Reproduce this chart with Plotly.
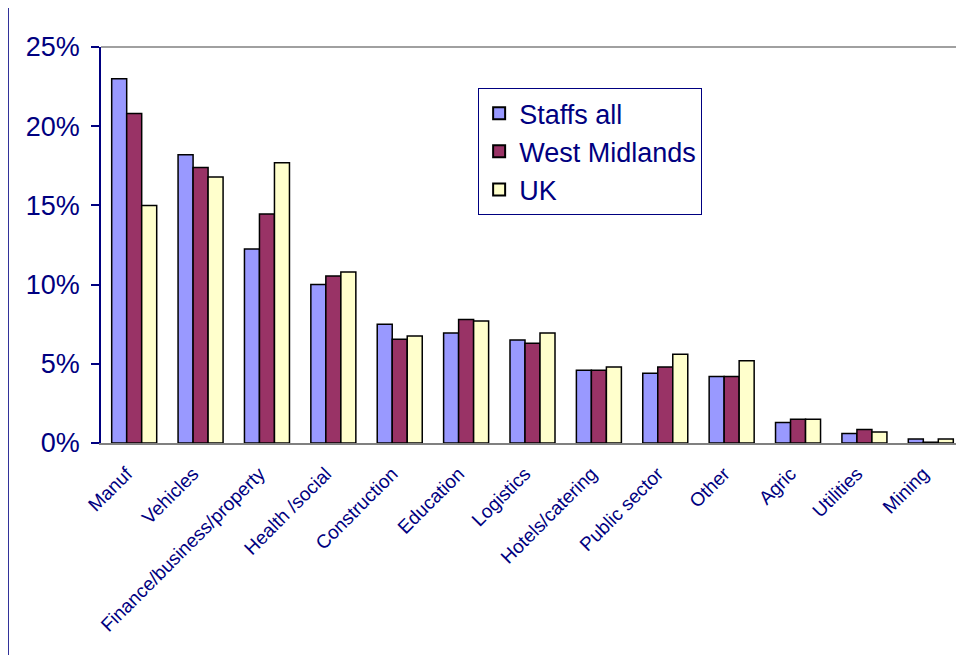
import plotly.graph_objects as go

categories = ["Manuf", "Vehicles", "Finance/business/property", "Health /social",
              "Construction", "Education", "Logistics", "Hotels/catering",
              "Public sector", "Other", "Agric", "Utilities", "Mining"]
staffs_all = [23.0, 18.2, 12.25, 10.0, 7.5, 6.95, 6.5, 4.6, 4.4, 4.2, 1.3, 0.6, 0.25]
west_midlands = [20.8, 17.4, 14.45, 10.55, 6.55, 7.8, 6.3, 4.6, 4.8, 4.2, 1.5, 0.85, 0.05]
uk = [15.0, 16.8, 17.7, 10.8, 6.75, 7.7, 6.95, 4.8, 5.6, 5.2, 1.5, 0.7, 0.25]
y_ticks = [0, 5, 10, 15, 20, 25]
y_tick_labels = ["0%", "5%", "10%", "15%", "20%", "25%"]

navy = "#000080"
font_family = "Liberation Sans, Arial, sans-serif"

fig = go.Figure()
for name, vals, col in [("Staffs all", staffs_all, "#9999FF"),
                        ("West Midlands", west_midlands, "#993366"),
                        ("UK", uk, "#FFFFCC")]:
    fig.add_trace(go.Bar(name=name, x=categories, y=vals,
                         marker=dict(color=col, line=dict(color="black", width=1.5))))

fig.update_layout(
    width=956, height=647,
    margin=dict(l=93, r=0, t=39, b=212),
    barmode="group", bargap=0.322, bargroupgap=0,
    plot_bgcolor="white", paper_bgcolor="white",
    font=dict(family=font_family, color=navy),
    showlegend=True,
    legend=dict(x=0.437, y=0.896, xanchor="left", yanchor="top",
                bordercolor=navy, borderwidth=1, bgcolor="white",
                font=dict(size=27, color=navy), tracegroupgap=0,
                itemsizing="constant"),
    xaxis=dict(tickangle=-45, tickfont=dict(size=19, color=navy),
               tickvals=categories,
               ticktext=[c + "\u00a0\u00a0" for c in categories],
               ticklabelstandoff=3,
               showline=True, linecolor="#808080", linewidth=1.5,
               ticks="", showgrid=False, automargin=False),
    yaxis=dict(range=[0, 25], tickvals=y_ticks, ticktext=y_tick_labels,
               tickfont=dict(size=27, color=navy),
               showline=True, linecolor=navy, linewidth=1.5,
               ticks="outside", ticklen=8, tickcolor=navy, tickwidth=1.5,
               ticklabelstandoff=6,
               showgrid=False, zeroline=False, automargin=False),
    shapes=[
        dict(type="line", xref="paper", yref="paper", x0=-0.1077, x1=-0.1077, y0=-0.54, y1=1.12,
             line=dict(color=navy, width=1.5)),
        dict(type="line", xref="paper", yref="paper", x0=0, x1=1, y0=1, y1=1,
             line=dict(color="#808080", width=1.5)),
    ],
)

fig.write_html("out.html")
